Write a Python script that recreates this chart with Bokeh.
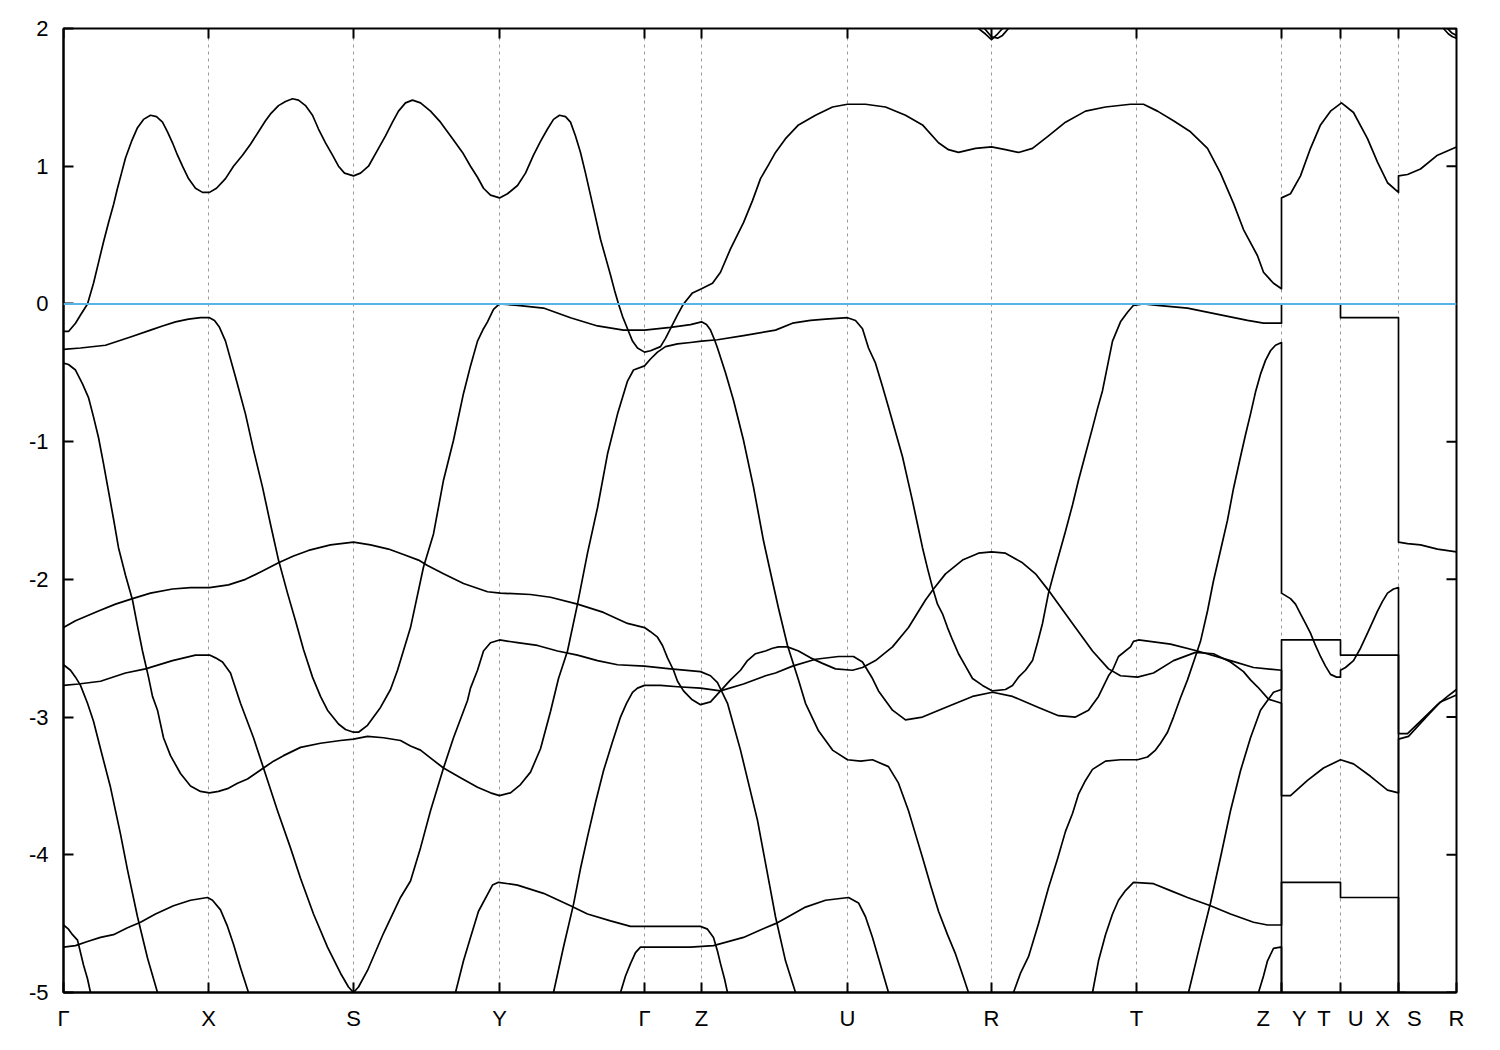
import math
from bokeh.plotting import figure
from bokeh.models import FixedTicker, Span, Range1d
from bokeh.embed import file_html
from bokeh.resources import INLINE

# ---- axis data ----
kpath_ticks = [0, 145, 290, 436, 581, 638, 784, 928, 1073, 1218, 1277, 1335, 1393]
kpath_labels = ["Γ", "X", "S", "Y", "Γ", "Z", "U", "R", "T",
                "Z\u2002\u2002Y", "T\u2002\u00a0U", "X\u2002\u00a0S", "R"]
energy_ticks = [-5, -4, -3, -2, -1, 0, 1, 2]
fermi_level = 0.0

# ---- bands: (k, E in eV) ----
band_c1 = [(0,-0.20),(5,-0.20),(12,-0.14),(17,-0.08),(24,0.00),(30,0.15),(35,0.30),(40,0.45),(45,0.59),(50,0.72),(54,0.84),(58,0.95),(62,1.06),(68,1.18),(74,1.28),(80,1.34),(87,1.37),(93,1.36),(99,1.32),(104,1.25),(109,1.17),(114,1.08),(119,1.00),(125,0.91),(132,0.84),(139,0.81),(146,0.81),(153,0.84),(162,0.91),(170,1.00),(179,1.08),(187,1.16),(195,1.25),(202,1.33),(207,1.38),(215,1.44),(222,1.47),(229,1.49),(235,1.48),(242,1.44),(249,1.37),(255,1.27),(262,1.17),(269,1.08),(275,1.00),(281,0.95),(290,0.93),(297,0.95),(305,1.00),(315,1.13),(322,1.22),(329,1.32),(335,1.40),(342,1.46),(349,1.48),(357,1.46),(367,1.40),(377,1.32),(390,1.19),(399,1.10),(407,1.00),(414,0.92),(420,0.84),(427,0.79),(436,0.77),(444,0.80),(454,0.86),(462,0.95),(470,1.08),(477,1.18),(484,1.27),(490,1.34),(496,1.37),(502,1.36),(507,1.32),(512,1.22),(517,1.10),(522,0.95),(527,0.79),(532,0.63),(537,0.47),(542,0.34),(547,0.21),(551,0.10),(555,0.00),(559,-0.09),(564,-0.18),(569,-0.27),(574,-0.32),(581,-0.35),(587,-0.34),(597,-0.31),(602,-0.25),(607,-0.18),(614,-0.08),(620,0.00),(629,0.08),(638,0.11),(649,0.15),(657,0.23),(667,0.40),(680,0.59),(689,0.75),(697,0.91),(705,1.01),(712,1.10),(722,1.20),(735,1.30),(752,1.37),(769,1.43),(784,1.45),(802,1.45),(822,1.43),(842,1.37),(859,1.30),(875,1.17),(885,1.12),(895,1.10),(912,1.13),(928,1.14),(942,1.12),(955,1.10),(969,1.13),(985,1.22),(1002,1.32),(1022,1.40),(1042,1.43),(1067,1.45),(1080,1.45),(1094,1.40),(1110,1.33),(1127,1.25),(1144,1.13),(1157,0.95),(1170,0.73),(1180,0.54),(1194,0.35),(1200,0.23),(1210,0.15),(1218,0.11),(1218,0.77),(1227,0.80),(1237,0.93),(1247,1.13),(1257,1.30),(1267,1.40),(1278,1.46),(1290,1.39),(1304,1.20),(1314,1.03),(1324,0.88),(1335,0.81),(1335,0.93),(1344,0.94),(1357,0.98),(1374,1.08),(1393,1.14)]

band_v1a = [(0,-0.33),(17,-0.32),(42,-0.30),(67,-0.24),(87,-0.19),(99,-0.16),(112,-0.13),(125,-0.11),(137,-0.10),(146,-0.10),(151,-0.12),(156,-0.17),(162,-0.27),(172,-0.53),(182,-0.80),(190,-1.06),(199,-1.33),(207,-1.60),(215,-1.86),(224,-2.10),(232,-2.30),(240,-2.51),(249,-2.71),(257,-2.85),(264,-2.95),(275,-3.05),(282,-3.09),(290,-3.11),(295,-3.11),(304,-3.06),(317,-2.93),(327,-2.80),(334,-2.66),(347,-2.35),(360,-1.91),(370,-1.67),(380,-1.28),(390,-0.99),(400,-0.65),(407,-0.45),(414,-0.27),(420,-0.18),(424,-0.13),(430,-0.04),(436,0.00),(454,-0.01),(480,-0.03),(507,-0.10),(534,-0.16),(560,-0.19),(581,-0.19),(607,-0.17),(627,-0.15),(638,-0.13),(643,-0.15),(647,-0.19),(651,-0.26),(654,-0.32),(662,-0.50),(670,-0.70),(680,-0.99),(690,-1.33),(700,-1.72),(707,-1.95),(715,-2.21),(724,-2.48),(735,-2.73),(742,-2.90),(755,-3.10),(769,-3.24),(784,-3.31),(797,-3.32),(809,-3.31),(825,-3.36),(835,-3.48),(845,-3.68),(852,-3.85),(859,-4.02),(867,-4.22),(875,-4.41),(884,-4.58),(892,-4.72),(899,-4.87),(905,-5.00)]

band_v1b = [(950,-5.00),(957,-4.86),(965,-4.74),(975,-4.50),(985,-4.24),(994,-4.03),(1002,-3.83),(1009,-3.70),(1015,-3.56),(1022,-3.46),(1029,-3.38),(1042,-3.32),(1057,-3.31),(1074,-3.31),(1084,-3.29),(1092,-3.24),(1097,-3.19),(1104,-3.11),(1110,-3.00),(1117,-2.86),(1124,-2.73),(1131,-2.58),(1137,-2.45),(1144,-2.23),(1150,-2.01),(1157,-1.79),(1164,-1.57),(1170,-1.34),(1177,-1.11),(1182,-0.95),(1187,-0.80),(1192,-0.64),(1197,-0.51),(1202,-0.41),(1207,-0.34),(1212,-0.30),(1218,-0.28),(1218,-2.10),(1227,-2.14),(1232,-2.18),(1237,-2.25),(1242,-2.32),(1247,-2.39),(1252,-2.48),(1257,-2.56),(1262,-2.63),(1267,-2.69),(1273,-2.71),(1277,-2.71),(1277,-2.66),(1282,-2.64),(1290,-2.59),(1297,-2.50),(1304,-2.39),(1309,-2.31),(1314,-2.23),(1319,-2.16),(1324,-2.10),(1330,-2.07),(1335,-2.06),(1335,-3.12),(1344,-3.12),(1357,-3.03),(1374,-2.91),(1384,-2.85),(1393,-2.80)]

band_a = [(0,-0.43),(5,-0.44),(12,-0.48),(19,-0.58),(25,-0.68),(30,-0.82),(35,-0.97),(40,-1.16),(45,-1.36),(50,-1.56),(55,-1.77),(62,-1.97),(69,-2.15),(74,-2.34),(79,-2.52),(85,-2.71),(89,-2.85),(94,-2.95),(100,-3.15),(107,-3.28),(117,-3.41),(127,-3.50),(137,-3.54),(146,-3.55),(155,-3.54),(164,-3.52),(174,-3.48),(184,-3.45),(192,-3.41),(200,-3.37),(210,-3.32),(220,-3.28),(237,-3.22),(257,-3.19),(277,-3.17),(290,-3.16),(304,-3.14),(320,-3.15),(337,-3.17),(347,-3.21),(357,-3.24),(364,-3.28),(380,-3.37),(397,-3.44),(414,-3.51),(427,-3.55),(436,-3.57),(447,-3.55),(457,-3.49),(467,-3.40),(477,-3.23),(487,-2.96),(495,-2.72),(504,-2.52),(514,-2.18),(524,-1.81),(534,-1.48),(544,-1.09),(554,-0.80),(559,-0.68),(564,-0.56),(570,-0.48),(581,-0.45),(587,-0.40),(594,-0.35),(602,-0.31),(614,-0.29),(627,-0.28),(638,-0.27),(654,-0.26),(680,-0.23),(712,-0.19),(729,-0.14),(747,-0.12),(762,-0.11),(784,-0.10),(792,-0.12),(799,-0.18),(805,-0.32),(812,-0.43),(819,-0.60),(825,-0.75),(832,-0.93),(839,-1.11),(844,-1.27),(849,-1.43),(854,-1.60),(859,-1.77),(864,-1.92),(869,-2.06),(874,-2.18),(879,-2.25),(884,-2.35),(889,-2.44),(895,-2.54),(902,-2.63),(909,-2.72),(919,-2.77),(929,-2.81),(942,-2.80),(949,-2.77),(955,-2.71),(962,-2.66),(969,-2.59),(974,-2.46),(979,-2.32),(985,-2.10),(992,-1.91),(1002,-1.65),(1009,-1.46),(1015,-1.28),(1022,-1.09),(1029,-0.90),(1034,-0.76),(1039,-0.63),(1044,-0.45),(1049,-0.27),(1057,-0.13),(1064,-0.06),(1070,-0.01),(1080,0.00),(1094,-0.01),(1124,-0.03),(1157,-0.08),(1184,-0.12),(1200,-0.14),(1218,-0.14),(1218,0.00),(1277,0.00),(1277,-0.10),(1335,-0.10),(1335,-1.73),(1344,-1.74),(1357,-1.75),(1374,-1.78),(1393,-1.80)]

band_e = [(0,-2.35),(12,-2.30),(35,-2.23),(52,-2.18),(69,-2.14),(87,-2.10),(109,-2.07),(127,-2.06),(146,-2.06),(165,-2.04),(182,-2.00),(199,-1.94),(215,-1.88),(230,-1.83),(245,-1.79),(267,-1.75),(290,-1.73),(307,-1.75),(325,-1.78),(340,-1.82),(355,-1.86),(364,-1.90),(380,-1.96),(400,-2.03),(424,-2.09),(437,-2.10),(467,-2.11),(487,-2.13),(514,-2.18),(540,-2.24),(564,-2.32),(581,-2.35),(587,-2.38),(594,-2.42),(599,-2.48),(604,-2.57),(610,-2.66),(614,-2.74),(620,-2.81),(628,-2.87),(637,-2.91),(647,-2.89),(652,-2.85),(657,-2.81),(667,-2.73),(677,-2.66),(684,-2.59),(692,-2.54),(702,-2.52),(709,-2.50),(715,-2.49),(724,-2.49),(735,-2.52),(747,-2.57),(759,-2.61),(772,-2.65),(789,-2.66),(799,-2.64),(812,-2.59),(829,-2.49),(845,-2.35),(862,-2.15),(870,-2.07),(882,-1.96),(899,-1.86),(915,-1.81),(928,-1.80),(942,-1.81),(959,-1.88),(972,-1.96),(985,-2.08),(992,-2.15),(1009,-2.32),(1029,-2.52),(1045,-2.65),(1057,-2.70),(1074,-2.71),(1090,-2.68),(1110,-2.59),(1132,-2.53),(1150,-2.54),(1167,-2.60),(1180,-2.67),(1187,-2.73),(1194,-2.78),(1205,-2.87),(1218,-2.90),(1218,-5.30)]

band_f = [(0,-2.77),(15,-2.76),(37,-2.74),(62,-2.68),(82,-2.65),(109,-2.59),(132,-2.55),(146,-2.55),(152,-2.57),(159,-2.60),(167,-2.68),(177,-2.90),(190,-3.15),(200,-3.37),(214,-3.68),(227,-3.95),(237,-4.17),(250,-4.43),(264,-4.67),(277,-4.86),(285,-4.96),(290,-5.00),(295,-4.96),(304,-4.84),(320,-4.57),(337,-4.31),(347,-4.19),(357,-3.95),(367,-3.68),(380,-3.37),(390,-3.15),(404,-2.88),(407,-2.79),(414,-2.66),(420,-2.52),(427,-2.46),(436,-2.44),(454,-2.46),(474,-2.48),(494,-2.52),(514,-2.55),(534,-2.59),(554,-2.62),(581,-2.63),(607,-2.65),(637,-2.67),(647,-2.70),(654,-2.75),(664,-2.90),(677,-3.24),(694,-3.75),(702,-4.06),(712,-4.45),(722,-4.77),(732,-5.00)]

band_b = [(0,-2.62),(7,-2.66),(12,-2.71),(17,-2.77),(24,-2.90),(30,-3.03),(37,-3.23),(47,-3.51),(57,-3.85),(64,-4.11),(74,-4.45),(84,-4.75),(94,-5.00)]

band_c = [(0,-4.51),(5,-4.54),(9,-4.58),(14,-4.62),(17,-4.71),(20,-4.80),(24,-4.90),(27,-5.00)]

band_d = [(0,-4.67),(12,-4.66),(24,-4.63),(37,-4.60),(50,-4.58),(64,-4.53),(77,-4.49),(92,-4.43),(110,-4.37),(127,-4.33),(144,-4.31),(149,-4.33),(157,-4.40),(164,-4.52),(170,-4.65),(177,-4.82),(185,-5.00)]

band_y42 = [(392,-5.00),(400,-4.77),(407,-4.60),(415,-4.41),(429,-4.22),(435,-4.20),(454,-4.22),(480,-4.28),(507,-4.37),(524,-4.43),(547,-4.48),(567,-4.52),(581,-4.52),(614,-4.52),(637,-4.52),(644,-4.54),(650,-4.60),(654,-4.70),(657,-4.79),(661,-4.90),(664,-5.00)]

band_g67 = [(557,-5.00),(562,-4.88),(567,-4.79),(572,-4.71),(577,-4.67),(597,-4.67),(627,-4.67),(650,-4.66),(660,-4.64),(680,-4.60),(702,-4.53),(712,-4.50),(722,-4.46),(742,-4.38),(762,-4.33),(785,-4.31),(795,-4.35),(802,-4.45),(809,-4.60),(817,-4.80),(825,-5.00)]

band_h = [(490,-5.00),(500,-4.67),(510,-4.36),(517,-4.10),(524,-3.87),(532,-3.62),(540,-3.39),(549,-3.18),(557,-3.00),(563,-2.90),(569,-2.82),(574,-2.79),(581,-2.77),(597,-2.77),(614,-2.78),(637,-2.79),(657,-2.81),(680,-2.76),(702,-2.70),(712,-2.68),(729,-2.63),(752,-2.58),(775,-2.56),(790,-2.56),(799,-2.60),(809,-2.72),(815,-2.81),(829,-2.95),(842,-3.02),(859,-3.00),(882,-2.93),(909,-2.85),(929,-2.82),(949,-2.85),(975,-2.93),(995,-2.99),(1012,-3.00),(1025,-2.95),(1035,-2.85),(1045,-2.70),(1049,-2.66),(1055,-2.56),(1067,-2.49),(1070,-2.45),(1075,-2.44),(1107,-2.47),(1134,-2.52),(1167,-2.59),(1190,-2.64),(1218,-2.66),(1218,-3.57),(1227,-3.57),(1244,-3.46),(1260,-3.37),(1277,-3.31),(1290,-3.34),(1307,-3.43),(1324,-3.53),(1335,-3.55),(1335,-3.16),(1345,-3.14),(1364,-2.99),(1377,-2.89),(1393,-2.84)]

band_ft = [(1125,-5.00),(1137,-4.64),(1147,-4.35),(1157,-4.02),(1167,-3.68),(1177,-3.39),(1187,-3.15),(1197,-2.95),(1204,-2.88),(1210,-2.82),(1218,-2.80),(1218,-2.44),(1277,-2.44),(1277,-2.55),(1335,-2.55),(1335,-5.00),(1342,-5.00),(1347,-5.30)]

band_t42 = [(1029,-5.00),(1035,-4.77),(1042,-4.58),(1049,-4.43),(1055,-4.33),(1062,-4.26),(1070,-4.20),(1090,-4.21),(1107,-4.26),(1124,-4.31),(1147,-4.37),(1167,-4.43),(1190,-4.49),(1204,-4.51),(1218,-4.51),(1218,-4.20),(1277,-4.20),(1277,-4.31),(1335,-4.31),(1335,-5.30)]

band_t67 = [(1195,-5.00),(1200,-4.88),(1204,-4.77),(1210,-4.68),(1217,-4.67),(1218,-4.67),(1218,-5.30)]

band_top1 = [(915,2.00),(922,1.96),(928,1.92),(934,1.96),(939,2.00)]
band_top2 = [(921,2.00),(928,1.94),(934,1.93),(939,1.95),(945,2.00)]
band_top3 = [(1380,2.00),(1385,1.96),(1389,1.94),(1393,1.93)]
band_top4 = [(1384,2.00),(1388,1.97),(1393,1.95)]

bands = [band_c1, band_v1a, band_v1b, band_a, band_e, band_f, band_b, band_c,
         band_d, band_y42, band_g67, band_h, band_ft, band_t42, band_t67,
         band_top1, band_top2, band_top3, band_top4]

FONT = "Liberation Sans"

p = figure(width=1490, height=1040,
           x_range=Range1d(kpath_ticks[0], kpath_ticks[-1]),
           y_range=Range1d(energy_ticks[0], energy_ticks[-1]),
           output_backend="svg", toolbar_location=None,
           min_border_left=63, min_border_right=34,
           min_border_top=28, min_border_bottom=48)
p.background_fill_color = "white"
p.border_fill_color = "white"
p.outline_line_color = "black"
p.outline_line_width = 2
p.outline_line_alpha = 1.0

# grid: vertical dashed lines at the k-points only
p.ygrid.visible = False
p.xgrid.ticker = FixedTicker(ticks=kpath_ticks)
p.xgrid.grid_line_color = "#9a9a9a"
p.xgrid.grid_line_dash = "3 4"
p.xgrid.grid_line_width = 1

# bottom axis
xa = p.xaxis[0]
xa.ticker = FixedTicker(ticks=kpath_ticks)
xa.major_label_overrides = {t: l for t, l in zip(kpath_ticks, kpath_labels)}
# left axis
ya = p.yaxis[0]
ya.ticker = FixedTicker(ticks=energy_ticks)
ya.major_label_overrides = {t: str(t) for t in energy_ticks}

for ax in [xa, ya]:
    ax.major_tick_in = 10
    ax.major_tick_out = 0
    ax.minor_tick_line_color = None
    ax.major_tick_line_width = 2
    ax.major_tick_line_color = "black"
    ax.axis_line_width = 2
    ax.axis_line_color = "black"
    ax.major_label_text_font = FONT
    ax.major_label_text_font_size = "22px"
    ax.major_label_text_color = "black"
xa.major_label_standoff = 13
ya.major_label_standoff = 15

# mirrored inward ticks on the top and right frame edges
p.ray(x=kpath_ticks, y=[energy_ticks[-1]] * len(kpath_ticks), length=10,
      length_units="screen", angle=-math.pi / 2, line_color="black", line_width=2)
p.ray(x=[kpath_ticks[-1]] * len(energy_ticks), y=energy_ticks, length=10,
      length_units="screen", angle=math.pi, line_color="black", line_width=2)

for band in bands:
    ks = [pt[0] for pt in band]
    es = [pt[1] for pt in band]
    p.line(ks, es, line_color="black", line_width=1.7, line_join="round")

p.add_layout(Span(location=fermi_level, dimension="width",
                  line_color="#56b4e9", line_width=2))

open("out.html", "w").write(file_html(p, INLINE))
